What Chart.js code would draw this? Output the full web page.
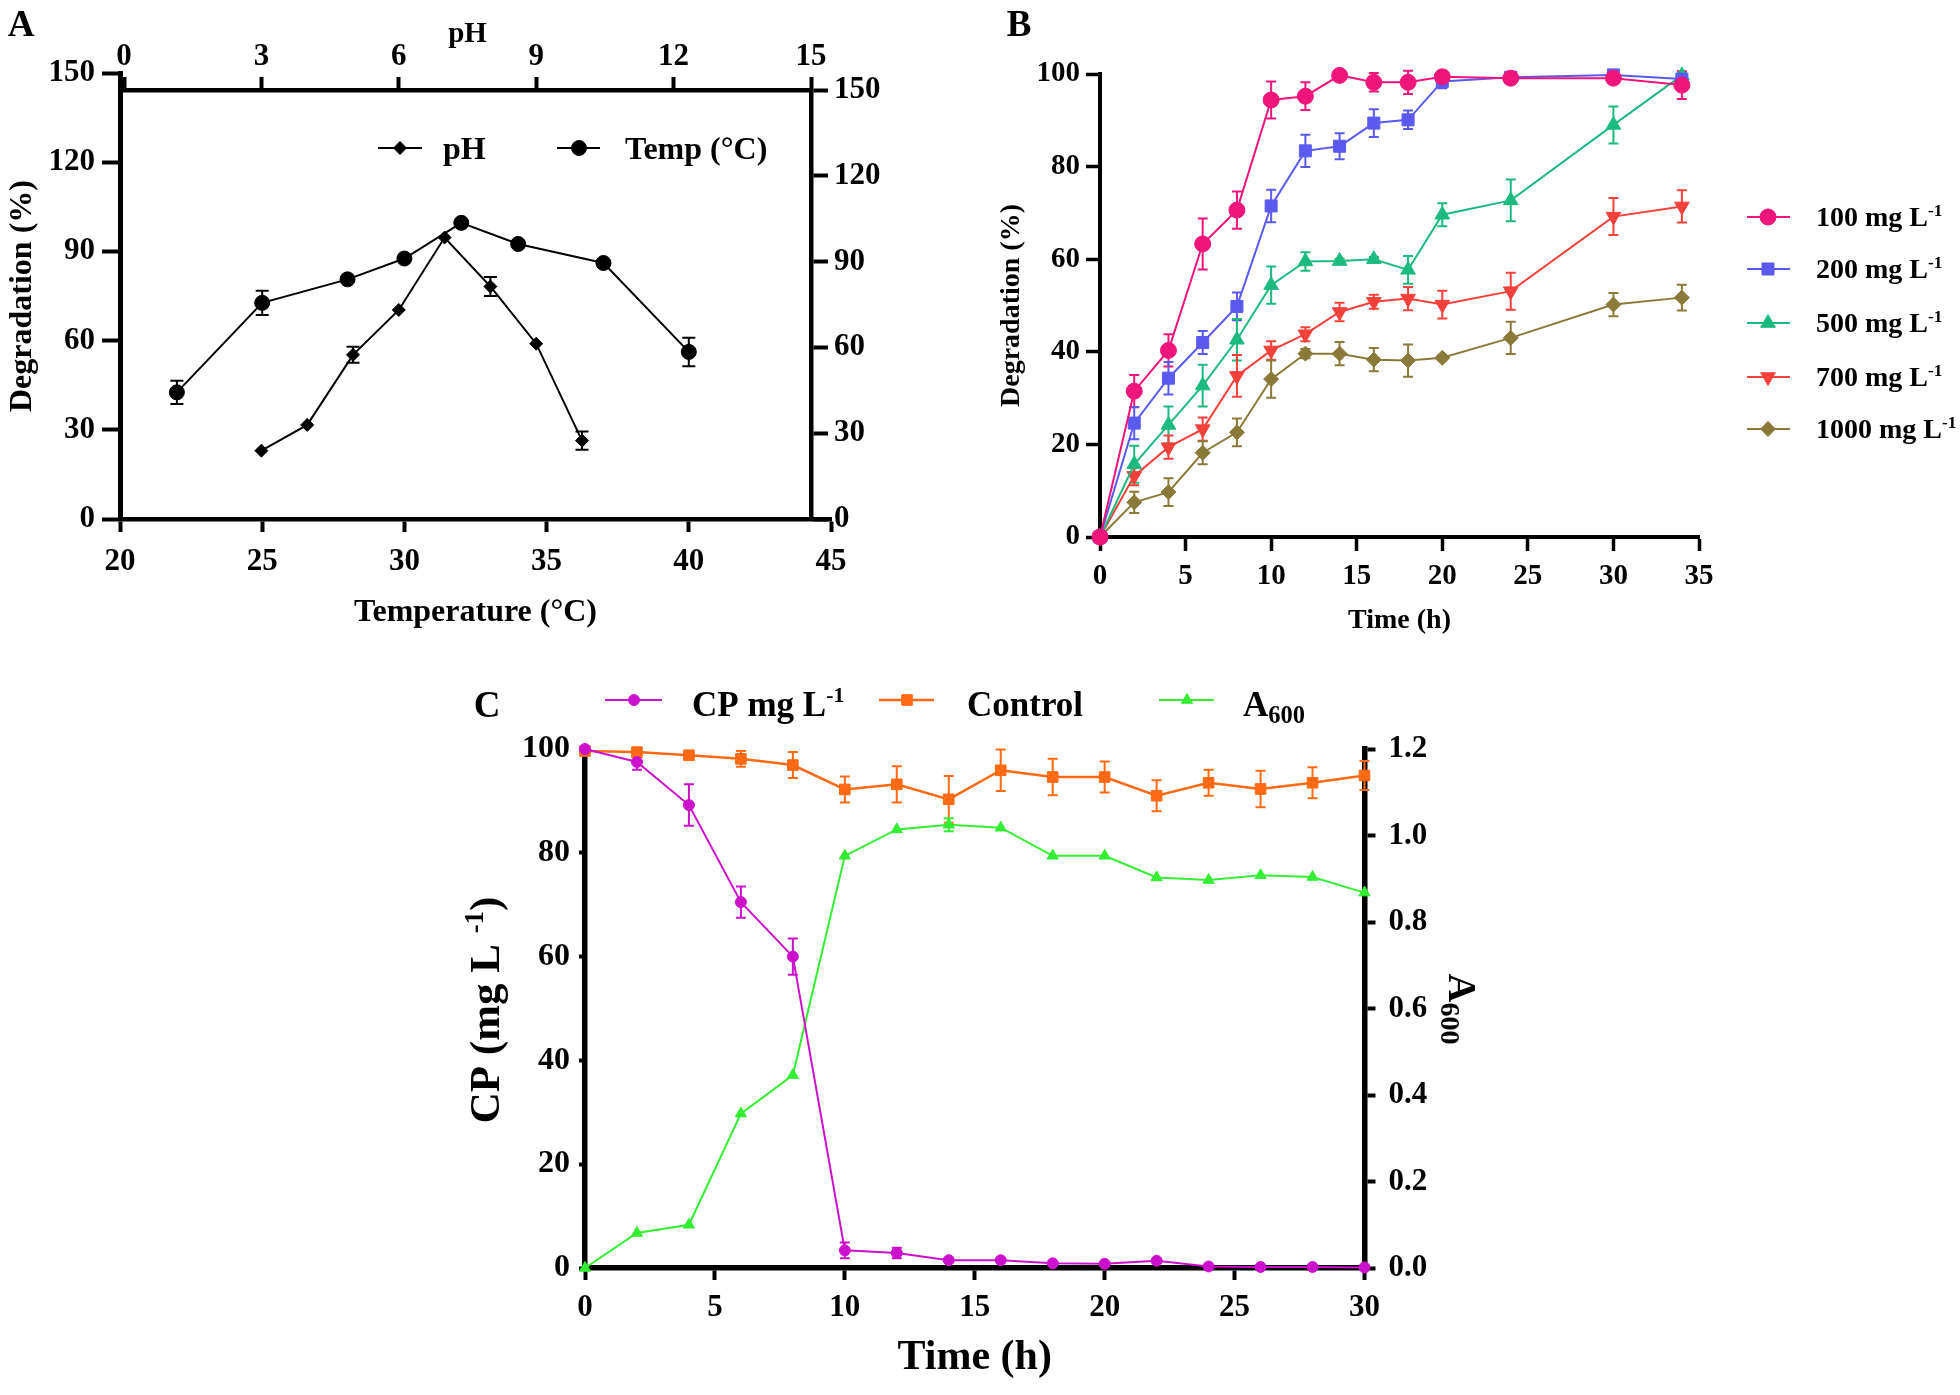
<!DOCTYPE html>
<html><head><meta charset="utf-8">
<script src="https://cdn.jsdelivr.net/npm/chart.js@4.4.1/dist/chart.umd.min.js"></script>
<style>
html,body{margin:0;padding:0;background:#fff;}
body{width:1960px;height:1395px;position:relative;overflow:hidden;}
canvas{position:absolute;}
</style></head><body>
<canvas id="a1" width="900" height="650" style="left:0;top:0;width:900px;height:650px"></canvas>
<canvas id="a2" width="900" height="650" style="left:0;top:0;width:900px;height:650px"></canvas>
<canvas id="b" width="1000" height="650" style="left:960px;top:0;width:1000px;height:650px"></canvas>
<canvas id="c" width="1100" height="745" style="left:440px;top:650px;width:1100px;height:745px"></canvas>
<script>
// ---------- Panel A data ----------
const tempC   = [22, 25, 28, 30, 32, 34, 37, 40];
const tempDeg = [42.6, 72.7, 80.6, 87.6, 99.6, 92.5, 86.1, 56.2];
const tempErr = [3.9, 4.1, 0, 0, 0, 0, 0, 4.8];
const phVals  = [3, 4, 5, 6, 7, 8, 9, 10];
const phDeg   = [23.9, 32.9, 57.4, 73.1, 98.4, 81.3, 61.3, 27.4];
const phErr   = [0, 0, 2.8, 0, 0, 3.3, 0, 3.2];
const seriesA = ['pH', 'Temp (°C)'];

// ---------- Panel B data ----------
const timeB = [0, 2, 4, 6, 8, 10, 12, 14, 16, 18, 20, 24, 30, 34];
const d100  = [0, 31.5, 40.3, 63.3, 70.6, 94.4, 95.2, 99.7, 98.2, 98.2, 99.4, 99.1, 99.1, 97.6];
const e100  = [0, 3.5, 3.5, 5.5, 4, 4, 3, 1, 2, 2.5, 1, 1, 1, 3];
const d200  = [0, 24.6, 34.3, 42.0, 49.8, 71.5, 83.4, 84.4, 89.4, 90.1, 98.4, 99.3, 99.8, 98.9];
const e200  = [0, 3.5, 3.5, 2.5, 3, 3.5, 3.5, 2.8, 3, 2, 1.5, 0.5, 0.5, 0.5];
const d500  = [0, 15.7, 24.2, 32.7, 42.6, 54.4, 59.5, 59.6, 60.0, 57.7, 69.6, 72.7, 89.0, 99.7];
const e500  = [0, 4, 4, 4.5, 4.5, 4, 2, 0.5, 0.5, 3, 2.5, 4.5, 4, 0.5];
const d700  = [0, 13.2, 19.4, 23.3, 34.8, 40.3, 43.8, 48.6, 50.8, 51.5, 50.2, 53.1, 69.2, 71.4];
const e700  = [0, 2, 2.5, 2.5, 4.5, 2, 1.5, 2, 1.5, 2.5, 3, 4, 4, 3.5];
const d1000 = [0, 7.5, 9.7, 18.2, 22.6, 34.1, 39.6, 39.6, 38.3, 38.1, 38.7, 43.0, 50.2, 51.7];
const e1000 = [0, 2.3, 3, 2.5, 3, 4, 1, 2.5, 2.5, 3.5, 0.5, 3.5, 2.5, 2.8];
const seriesB = ['100 mg L', '200 mg L', '500 mg L', '700 mg L', '1000 mg L'];

// ---------- Panel C data ----------
const timeC   = [0, 2, 4, 6, 8, 10, 12, 14, 16, 18, 20, 22, 24, 26, 28, 30];
const cpConc  = [100, 97.5, 89.2, 70.5, 60.0, 3.4, 2.9, 1.5, 1.5, 0.9, 0.8, 1.4, 0.3, 0.2, 0.2, 0.1];
const cpErr   = [0, 1.5, 4, 3, 3.5, 1.5, 1, 0, 0, 0, 0, 0, 0, 0, 0, 0];
const control = [99.6, 99.4, 98.8, 98.1, 96.9, 92.2, 93.2, 90.3, 95.9, 94.6, 94.6, 91.0, 93.5, 92.3, 93.5, 94.9];
const ctrlErr = [0.3, 0.5, 0.8, 1.5, 2.5, 2.5, 3.5, 4.5, 4, 3.5, 3, 3, 2.5, 3.5, 3, 2.8];
const a600    = [0, 0.081, 0.10, 0.357, 0.446, 0.953, 1.014, 1.025, 1.018, 0.953, 0.953, 0.903, 0.897, 0.908, 0.904, 0.868];
const a600Err = [0, 0, 0, 0, 0, 0, 0, 0.015, 0, 0, 0, 0, 0, 0, 0, 0];
const seriesC = ['CP mg L', 'Control', 'A'];

// ---------- helpers ----------
const FONT = "'Liberation Serif','Times New Roman',serif";
const f = s => ({family: FONT, size: s, weight: 'bold'});
const pts = (xs, ys) => xs.map((x, i) => ({x, y: ys[i]}));

function drawRich(ctx, segs, x, y, size, align, rot) {
  ctx.save();
  ctx.translate(x, y);
  if (rot) ctx.rotate(rot);
  const parts = segs.map(sg => {
    const fs = sg.s ? size * (sg.s === 'sub' ? 0.7 : 0.62) : size;
    ctx.font = `bold ${fs}px ${FONT}`;
    return {sg, fs, w: ctx.measureText(sg.t).width};
  });
  const total = parts.reduce((a, p) => a + p.w, 0);
  let cx = align === 'center' ? -total / 2 : align === 'right' ? -total : 0;
  ctx.textAlign = 'left'; ctx.textBaseline = 'alphabetic'; ctx.fillStyle = '#000';
  const base = size * 0.33;
  parts.forEach(p => {
    ctx.font = `bold ${p.fs}px ${FONT}`;
    let dy = base;
    if (p.sg.s === 'sup') dy = base - size * 0.38;
    if (p.sg.s === 'sub') dy = base + size * 0.2;
    ctx.fillText(p.sg.t, cx, dy);
    cx += p.w;
  });
  ctx.restore();
}

function drawMarker(ctx, style, x, y, r, color, rot) {
  ctx.save();
  ctx.fillStyle = color; ctx.strokeStyle = color; ctx.lineWidth = 1;
  ctx.beginPath();
  if (style === 'circle') ctx.arc(x, y, r, 0, Math.PI * 2);
  else if (style === 'rect') { const s = Math.SQRT1_2 * r; ctx.rect(x - s, y - s, 2 * s, 2 * s); }
  else if (style === 'rectRot') { ctx.moveTo(x - r, y); ctx.lineTo(x, y - r); ctx.lineTo(x + r, y); ctx.lineTo(x, y + r); ctx.closePath(); }
  else if (style === 'triangle') {
    let a = (rot || 0) * Math.PI / 180;
    for (let k = 0; k < 3; k++) {
      const px = x + Math.sin(a) * r, py = y - Math.cos(a) * r;
      k ? ctx.lineTo(px, py) : ctx.moveTo(px, py);
      a += 2 * Math.PI / 3;
    }
    ctx.closePath();
  }
  ctx.fill(); ctx.stroke();
  ctx.restore();
}

const errorBarPlugin = {
  id: 'errbars',
  beforeDatasetsDraw(chart) {
    const ctx = chart.ctx;
    chart.data.datasets.forEach((ds, i) => {
      if (!ds.errors) return;
      const meta = chart.getDatasetMeta(i);
      const xs = chart.scales[meta.xAxisID], ys = chart.scales[meta.yAxisID];
      ctx.save();
      ctx.strokeStyle = ds.borderColor; ctx.lineWidth = ds.errorWidth || 2;
      ds.data.forEach((p, j) => {
        const e = ds.errors[j];
        if (!e) return;
        const x = xs.getPixelForValue(p.x);
        const y1 = ys.getPixelForValue(p.y - e), y2 = ys.getPixelForValue(p.y + e);
        const c = ds.capHalf || 5;
        ctx.beginPath();
        ctx.moveTo(x, y1); ctx.lineTo(x, y2);
        ctx.moveTo(x - c, y1); ctx.lineTo(x + c, y1);
        ctx.moveTo(x - c, y2); ctx.lineTo(x + c, y2);
        ctx.stroke();
      });
      ctx.restore();
    });
  }
};

function annot(cfg) {
  return {
    id: 'annot',
    afterDraw(chart) {
      const ctx = chart.ctx;
      (cfg.legend || []).forEach(L => {
        ctx.save(); ctx.strokeStyle = L.color; ctx.lineWidth = L.lw;
        ctx.beginPath(); ctx.moveTo(L.x1, L.y); ctx.lineTo(L.x2, L.y); ctx.stroke(); ctx.restore();
        drawMarker(ctx, L.style, L.mx, L.y, L.r, L.color, L.rot);
        drawRich(ctx, L.segs, L.tx, L.ty !== undefined ? L.ty : L.y, L.size, 'left', 0);
      });
      (cfg.texts || []).forEach(t => drawRich(ctx, t.segs, t.x, t.y, t.size, t.align || 'left', t.rot || 0));
    }
  };
}

function axis(o) {
  const a = {
    type: 'linear', position: o.pos, min: o.min, max: o.max,
    afterFit: s => { if (o.w !== undefined) s.width = o.w; if (o.h !== undefined) s.height = o.h; },
    ticks: {stepSize: o.step, font: f(o.font), color: '#000', padding: o.pad, maxRotation: 0, autoSkip: false},
    grid: {display: true, drawOnChartArea: false, drawTicks: true, tickLength: o.tl, tickWidth: o.tw || 3, tickColor: '#000'},
    border: {display: true, width: o.bw, color: '#000'},
    title: o.title ? {display: true, text: o.title, font: f(o.tfont), color: '#000', padding: {top: 4, bottom: 4}} : {display: false}
  };
  if (o.fmt) a.ticks.callback = o.fmt;
  return a;
}

const common = {responsive: false, animation: false, devicePixelRatio: 1, events: [],
  plugins: {legend: {display: false}, tooltip: {enabled: false}}};

// ---------- Panel A: temperature (bottom / left) ----------
new Chart(document.getElementById('a1'), {
  type: 'line',
  data: {datasets: [{
    label: seriesA[1], data: pts(tempC, tempDeg), errors: tempErr, capHalf: 6.5,
    borderColor: '#000', backgroundColor: '#000', borderWidth: 2, tension: 0, clip: false,
    pointStyle: 'circle', pointRadius: 7.5, pointBorderWidth: 1, pointBackgroundColor: '#000', pointBorderColor: '#000'
  }]},
  options: Object.assign({}, common, {
    layout: {padding: {left: 0, right: 69, top: 73, bottom: 14}},
    scales: {
      x: axis({pos: 'bottom', min: 20, max: 45, step: 5, font: 31, pad: 11, tl: 13, tw: 4, bw: 4.5, h: 117, title: 'Temperature (°C)', tfont: 32}),
      y: axis({pos: 'left', min: 0, max: 150, step: 30, font: 31, pad: 7, tl: 18, tw: 4, bw: 5, w: 120, title: 'Degradation (%)', tfont: 32})
    }
  }),
  plugins: [errorBarPlugin, annot({
    texts: [{segs: [{t: 'A'}], x: 21, y: 24, size: 37, align: 'center'}],
    legend: [
      {style: 'rectRot', r: 6.5, color: '#000', lw: 2, x1: 378, x2: 422, mx: 400, y: 148, tx: 443, size: 32, segs: [{t: seriesA[0]}]},
      {style: 'circle', r: 7.5, color: '#000', lw: 2, x1: 557, x2: 600, mx: 579, y: 148, tx: 625, size: 32, segs: [{t: seriesA[1]}]}
    ]
  })]
});

// ---------- Panel A: pH (top / right) ----------
new Chart(document.getElementById('a2'), {
  type: 'line',
  data: {datasets: [{
    label: seriesA[0], data: pts(phVals, phDeg), errors: phErr, capHalf: 6.5,
    borderColor: '#000', backgroundColor: '#000', borderWidth: 2, tension: 0, clip: false,
    pointStyle: 'rectRot', pointRadius: 6.5, pointBorderWidth: 1, pointBackgroundColor: '#000', pointBorderColor: '#000'
  }]},
  options: Object.assign({}, common, {
    layout: {padding: {left: 124, right: 4, top: 13, bottom: 131}},
    scales: {
      x: axis({pos: 'top', min: 0, max: 15, step: 3, font: 31, pad: 1, tl: 13, tw: 4, bw: 4.5, h: 77, title: 'pH', tfont: 29}),
      y: axis({pos: 'right', min: 0, max: 150, step: 30, font: 31, pad: 6, tl: 17, tw: 4, bw: 4.5, w: 85})
    }
  }),
  plugins: [errorBarPlugin]
});

// ---------- Panel B ----------
const bStyles = [
  {c: '#F0157A', ps: 'circle', r: 8, rot: 0},
  {c: '#5A5AF0', ps: 'rect', r: 8.5, rot: 0},
  {c: '#1DBA80', ps: 'triangle', r: 8.5, rot: 0},
  {c: '#F5413C', ps: 'triangle', r: 8.5, rot: 180},
  {c: '#8A7A3A', ps: 'rectRot', r: 7.5, rot: 0}
];
const bVals = [d100, d200, d500, d700, d1000];
const bErrs = [e100, e200, e500, e700, e1000];
new Chart(document.getElementById('b'), {
  type: 'line',
  data: {datasets: bVals.map((v, i) => ({
    label: seriesB[i], data: pts(timeB, v), errors: bErrs[i], capHalf: 5,
    borderColor: bStyles[i].c, backgroundColor: bStyles[i].c, borderWidth: 2, tension: 0, clip: false,
    pointStyle: bStyles[i].ps, pointRotation: bStyles[i].rot, pointRadius: bStyles[i].r, pointBorderWidth: 1,
    pointBackgroundColor: bStyles[i].c, pointBorderColor: bStyles[i].c
  }))},
  options: Object.assign({}, common, {
    layout: {padding: {left: 31, right: 261, top: 74, bottom: 8}},
    scales: {
      x: axis({pos: 'bottom', min: 0, max: 35, step: 5, font: 29, pad: 8, tl: 14, tw: 3.5, bw: 4, h: 105, title: 'Time (h)', tfont: 28}),
      y: axis({pos: 'left', min: 0, max: 100, step: 20, font: 29, pad: 6, tl: 14, tw: 3.5, bw: 4, w: 109, title: 'Degradation (%)', tfont: 28})
    }
  }),
  plugins: [errorBarPlugin, annot({
    texts: [{segs: [{t: 'B'}], x: 59, y: 24, size: 37, align: 'center'}],
    legend: [217, 269, 323, 377, 429].map((y, i) => ({
      style: bStyles[i].ps, rot: bStyles[i].rot, r: bStyles[i].r, color: bStyles[i].c, lw: 2,
      x1: 787, x2: 830, mx: 808, y, tx: 856, size: 28, segs: [{t: seriesB[i]}, {t: '-1', s: 'sup'}]
    }))
  })]
});

// ---------- Panel C ----------
new Chart(document.getElementById('c'), {
  type: 'line',
  data: {datasets: [
    {label: seriesC[0], data: pts(timeC, cpConc), errors: cpErr, capHalf: 5, yAxisID: 'y',
     borderColor: '#CC11CC', backgroundColor: '#CC11CC', borderWidth: 2, tension: 0, clip: false,
     pointStyle: 'circle', pointRadius: 5.5, pointBorderWidth: 1, pointBackgroundColor: '#CC11CC', pointBorderColor: '#CC11CC'},
    {label: seriesC[1], data: pts(timeC, control), errors: ctrlErr, capHalf: 5, yAxisID: 'y',
     borderColor: '#FF6A13', backgroundColor: '#FF6A13', borderWidth: 2.5, tension: 0, clip: false,
     pointStyle: 'rect', pointRadius: 7.5, pointBorderWidth: 1, pointBackgroundColor: '#FF6A13', pointBorderColor: '#FF6A13'},
    {label: seriesC[2], data: pts(timeC, a600), errors: a600Err, capHalf: 5, yAxisID: 'y1',
     borderColor: '#33EE33', backgroundColor: '#33EE33', borderWidth: 2, tension: 0, clip: false,
     pointStyle: 'triangle', pointRadius: 6.5, pointBorderWidth: 1, pointBackgroundColor: '#33EE33', pointBorderColor: '#33EE33'}
  ]},
  options: Object.assign({}, common, {
    layout: {padding: {left: 0, right: 75.5, top: 99, bottom: 8}},
    scales: {
      x: axis({pos: 'bottom', min: 0, max: 30, step: 5, font: 31, pad: 9, tl: 12, tw: 4, bw: 5.5, h: 119, title: 'Time (h)', tfont: 42}),
      y: axis({pos: 'left', min: 0, max: 100, step: 20, font: 32, pad: 9, tl: 6, tw: 4, bw: 5.5, w: 145}),
      y1: axis({pos: 'right', min: 0, max: 1.2, step: 0.2, font: 31, pad: 13, tl: 11, tw: 4, bw: 5.5, w: 100,
                fmt: v => v.toFixed(1)})
    }
  }),
  plugins: [errorBarPlugin, annot({
    texts: [
      {segs: [{t: 'C'}], x: 47, y: 55, size: 37, align: 'center'},
      {segs: [{t: 'CP (mg L '}, {t: '-1', s: 'sup'}, {t: ')'}], x: 45, y: 360, size: 43, align: 'center', rot: -Math.PI / 2},
      {segs: [{t: 'A'}, {t: '600', s: 'sub'}], x: 1022, y: 359, size: 40, align: 'center', rot: Math.PI / 2}
    ],
    legend: [
      {style: 'circle', r: 5.5, color: '#CC11CC', lw: 2, x1: 165, x2: 222, mx: 194, y: 50, ty: 54, tx: 252, size: 35,
       segs: [{t: seriesC[0]}, {t: '-1', s: 'sup'}]},
      {style: 'rect', r: 7.5, color: '#FF6A13', lw: 2.5, x1: 439, x2: 494, mx: 467, y: 50, ty: 54, tx: 527, size: 35,
       segs: [{t: seriesC[1]}]},
      {style: 'triangle', r: 6.5, color: '#33EE33', lw: 2, x1: 719, x2: 774, mx: 747, y: 50, ty: 54, tx: 803, size: 35,
       segs: [{t: seriesC[2]}, {t: '600', s: 'sub'}]}
    ]
  })]
});
</script>
</body></html>
